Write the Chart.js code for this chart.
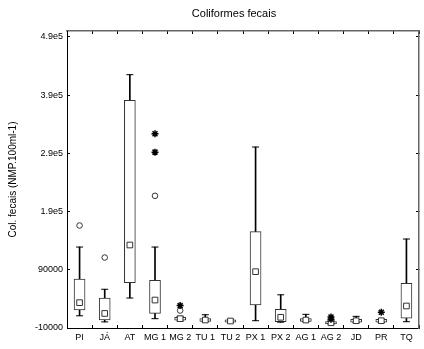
<!DOCTYPE html>
<html>
<head>
<meta charset="utf-8">
<script src="https://cdn.jsdelivr.net/npm/chart.js@4"></script>
<style>
  html, body { margin: 0; padding: 0; background: #fff; }
  #wrap { width: 424px; height: 349px; }
</style>
</head>
<body>
<div id="wrap"><canvas id="chart"></canvas></div>
<script>
const CATEGORIES = ['PI', 'JÁ', 'AT', 'MG 1', 'MG 2', 'TU 1', 'TU 2', 'PX 1', 'PX 2', 'AG 1', 'AG 2', 'JD', 'PR', 'TQ'];

// box plot values
const WHISKER_LOW  = [11000,   500,  41500,   6000,  2000,  1000,  -500,   2500,     0,  1000, -3000, -1000,  -500,    800];
const Q1           = [21000,  4000,  68000,  15000,  3500,  1200,     0,  29500,   800,  1200, -3000,     0,     0,   6700];
const MEDIAN       = [33500, 15000, 132500,  38000,  6000,  3700,  2000,  86700,  8400,  3700, -1000,  2500,  2500,  27800];
const Q3           = [74000, 41500, 381000,  72000,  8500,  6200,  4000, 155400, 22000,  6200,  1000,  5000,  5000,  66800];
const WHISKER_HIGH = [129000, 56500, 425000, 129000, 10000, 12800,  4500, 300800, 47000, 13500,  2000, 10000,  5000, 142800];

const OUTLIERS = [['PI', 166000], ['JÁ', 111000], ['MG 1', 217000], ['MG 2', 20000]];
const EXTREMES = [['MG 1', 323500], ['MG 1', 292000], ['MG 2', 28500], ['AG 2', 9000], ['AG 2', 5000], ['PR', 17000]];

const Y_TICKS = [-10000, 90000, 190000, 290000, 390000, 490000];
const Y_TICK_LABELS = ['-10000', '90000', '1.9e5', '2.9e5', '3.9e5', '4.9e5'];

const TITLE = 'Coliformes fecais';
const FONT = 'Arial, "Liberation Sans", sans-serif';

const setTicks = scale => { scale.ticks = Y_TICKS.map(v => ({ value: v })); };

const titlePlugin = {
  id: 'plotTitle',
  afterDraw(chart) {
    const ctx = chart.ctx;
    ctx.save();
    ctx.font = '11px ' + FONT;
    ctx.fillStyle = '#000';
    ctx.textAlign = 'center';
    ctx.textBaseline = 'middle';
    ctx.fillText(TITLE, 234, 14);
    ctx.restore();
  },
};

const pointDefaults = { type: 'line', showLine: false, pointHoverRadius: 0 };

new Chart(document.getElementById('chart'), {
  type: 'bar',
  data: {
    labels: CATEGORIES,
    datasets: [
      {
        label: 'whiskers',
        data: CATEGORIES.map((c, i) => [WHISKER_LOW[i], WHISKER_HIGH[i]]),
        backgroundColor: '#000',
        barThickness: 1,
        grouped: false,
        order: 4,
      },
      {
        label: 'boxes',
        data: CATEGORIES.map((c, i) => [Q1[i], Q3[i]]),
        backgroundColor: '#fff',
        borderColor: '#333',
        borderWidth: 1,
        borderSkipped: false,
        barThickness: 11,
        grouped: false,
        order: 3,
      },
      {
        ...pointDefaults,
        label: 'caps',
        data: CATEGORIES.flatMap((c, i) => [{ x: c, y: WHISKER_LOW[i] }, { x: c, y: WHISKER_HIGH[i] }]),
        pointStyle: 'line',
        pointRadius: 3.5,
        borderColor: '#000',
        borderWidth: 1,
        order: 2,
      },
      {
        ...pointDefaults,
        label: 'median',
        data: CATEGORIES.map((c, i) => ({ x: c, y: MEDIAN[i] })),
        pointStyle: 'rect',
        pointRadius: 4,
        backgroundColor: '#fff',
        borderColor: '#333',
        borderWidth: 1,
        order: 1,
      },
      {
        ...pointDefaults,
        label: 'outliers',
        data: OUTLIERS.map(([c, v]) => ({ x: c, y: v })),
        pointStyle: 'circle',
        pointRadius: 2.8,
        backgroundColor: '#fff',
        borderColor: '#333',
        borderWidth: 1,
        order: 1,
      },
      {
        ...pointDefaults,
        label: 'extremes',
        data: EXTREMES.map(([c, v]) => ({ x: c, y: v })),
        pointStyle: 'star',
        pointRadius: 3.5,
        borderColor: '#000',
        borderWidth: 1.5,
        order: 0,
      },
    ],
  },
  options: {
    responsive: true,
    maintainAspectRatio: false,
    animation: false,
    layout: { padding: { top: 31, right: 1, left: 0, bottom: 0 } },
    plugins: {
      legend: { display: false },
      tooltip: { enabled: false },
      title: { display: false },
    },
    scales: {
      x: {
        type: 'category',
        position: 'bottom',
        offset: true,
        grid: { offset: true, drawOnChartArea: false, tickLength: -3, color: '#000' },
        border: { color: '#000', width: 1 },
        ticks: { color: '#000', font: { family: FONT, size: 9 }, padding: 7, maxRotation: 0, autoSkip: false },
        afterFit: s => { s.height = 21; },
      },
      x2: {
        type: 'category',
        position: 'top',
        offset: true,
        grid: { offset: true, drawOnChartArea: false, tickLength: -3, color: '#000' },
        border: { color: '#666', width: 1.5 },
        ticks: { display: false },
        afterFit: s => { s.height = 0; },
      },
      y: {
        type: 'linear',
        position: 'left',
        min: -10000,
        max: 500000,
        afterBuildTicks: setTicks,
        grid: { drawOnChartArea: false, tickLength: -3, color: '#000' },
        border: { color: '#000', width: 1 },
        ticks: {
          color: '#000',
          font: { family: FONT, size: 9 },
          padding: 7,
          callback: v => Y_TICK_LABELS[Y_TICKS.indexOf(v)],
        },
        title: {
          display: true,
          text: 'Col. fecais (NMP.100ml-1)',
          color: '#000',
          font: { family: FONT, size: 10 },
          padding: { top: 7, bottom: 0 },
        },
        afterFit: s => { s.width = 67; },
      },
      y2: {
        type: 'linear',
        position: 'right',
        min: -10000,
        max: 500000,
        afterBuildTicks: setTicks,
        grid: { drawOnChartArea: false, tickLength: -3, color: '#000' },
        border: { color: '#666', width: 1.5 },
        ticks: { display: false },
        afterFit: s => { s.width = 0; },
      },
    },
  },
  plugins: [titlePlugin],
});
</script>
</body>
</html>
